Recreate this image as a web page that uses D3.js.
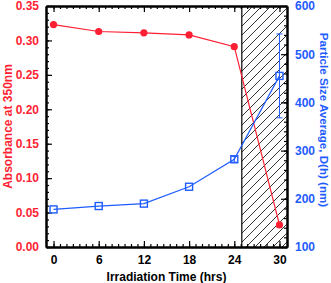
<!DOCTYPE html>
<html>
<head>
<meta charset="utf-8">
<script src="https://cdn.jsdelivr.net/npm/d3@7"></script>
<style>
  body { margin: 0; background: #fff; }
  text { font-family: "Liberation Sans", Arial, sans-serif; font-weight: bold; }
</style>
</head>
<body>
<svg width="331" height="283"></svg>
<script>
// data
var hours = [0, 6, 12, 18, 24, 30];
var absorbance = [0.323, 0.313, 0.311, 0.308, 0.291, 0.032];
var particleSize = [178, 185, 190, 225, 282, 455];
var sizeError = [0, 0, 0, 0, 6, 87];
var xTicks = [0, 6, 12, 18, 24, 30];
var hatchStart = 25;

var red = "#ff1f33", blue = "#1f5cff";

var svg = d3.select("svg"),
    width = +svg.attr("width"),
    height = +svg.attr("height"),
    marge = {top: 6, bottom: 36, left: 46, right: 44};
var w = width - marge.left - marge.right,
    h = height - marge.top - marge.bottom;

var g = svg.append("g")
    .attr("transform", "translate(" + marge.left + "," + marge.top + ")");

var x = d3.scaleLinear().domain([-1, 31]).range([0, w]);
var yL = d3.scaleLinear().domain([0, 0.35]).range([h, 0]);
var yR = d3.scaleLinear().domain([100, 600]).range([h, 0]);

// hatch pattern
var pat = svg.append("defs").append("pattern")
    .attr("id", "hatch")
    .attr("patternUnits", "userSpaceOnUse")
    .attr("width", 9).attr("height", 9);
pat.append("path")
    .attr("d", "M0,9 L9,0 M-2,2 L2,-2 M7,11 L11,7")
    .attr("stroke", "#000").attr("stroke-width", 0.8);

g.append("rect")
    .attr("x", x(hatchStart)).attr("y", 0)
    .attr("width", x(31) - x(hatchStart)).attr("height", h)
    .attr("fill", "url(#hatch)");
g.append("line")
    .attr("x1", x(hatchStart)).attr("x2", x(hatchStart))
    .attr("y1", 0).attr("y2", h)
    .attr("stroke", "#000").attr("stroke-width", 1.2);

// minor ticks on x: six between each major
var xMinor = [];
for (var i = 0; i <= 35; i++) { var v = i * 6 / 7; if (v < 31) xMinor.push(v); }

function styleAxis(sel) {
  sel.select(".domain").attr("stroke", "#000").attr("stroke-width", 2);
  sel.selectAll(".tick line").attr("stroke", "#000").attr("stroke-width", 1.2);
  sel.selectAll("text").attr("font-size", 12);
}

g.append("g").attr("transform", "translate(0," + h + ")")
  .call(d3.axisBottom(x).tickValues(xMinor).tickSize(-3).tickSizeOuter(0).tickFormat(""))
  .call(styleAxis);
g.append("g").attr("transform", "translate(0," + h + ")")
  .call(d3.axisBottom(x).tickValues(xTicks).tickSize(-6).tickSizeOuter(0).tickPadding(8).tickFormat(d3.format("d")))
  .call(styleAxis)
  .selectAll("text").attr("fill", "#000");

g.append("g")
  .call(d3.axisTop(x).tickValues(xMinor).tickSize(-3).tickSizeOuter(0).tickFormat(""))
  .call(styleAxis);
g.append("g")
  .call(d3.axisTop(x).tickValues(xTicks).tickSize(-6).tickSizeOuter(0).tickFormat(""))
  .call(styleAxis);

g.append("g")
  .call(d3.axisLeft(yL).tickValues(d3.range(0, 0.351, 0.01)).tickSize(-3).tickSizeOuter(0).tickFormat(""))
  .call(styleAxis);
g.append("g")
  .call(d3.axisLeft(yL).tickValues(d3.range(0, 0.351, 0.05)).tickSize(-6).tickSizeOuter(0).tickPadding(7).tickFormat(d3.format(".2f")))
  .call(styleAxis)
  .selectAll("text").attr("fill", red);

g.append("g").attr("transform", "translate(" + w + ",0)")
  .call(d3.axisRight(yR).tickValues(d3.range(100, 601, 20)).tickSize(-3).tickSizeOuter(0).tickFormat(""))
  .call(styleAxis);
g.append("g").attr("transform", "translate(" + w + ",0)")
  .call(d3.axisRight(yR).tickValues(d3.range(100, 601, 100)).tickSize(-6).tickSizeOuter(0).tickPadding(8).tickFormat(d3.format("d")))
  .call(styleAxis)
  .selectAll("text").attr("fill", blue);

// absorbance series
var absData = hours.map(function(d, i){ return {x: d, y: absorbance[i]}; });
g.append("path")
  .datum(absData)
  .attr("fill", "none").attr("stroke", red).attr("stroke-width", 1.2)
  .attr("d", d3.line().x(function(d){ return x(d.x); }).y(function(d){ return yL(d.y); }));
g.selectAll(".absPt").data(absData).enter().append("circle")
  .attr("cx", function(d){ return x(d.x); })
  .attr("cy", function(d){ return yL(d.y); })
  .attr("r", 3.6).attr("fill", red);

// particle size series
var sizeData = hours.map(function(d, i){ return {x: d, y: particleSize[i], e: sizeError[i]}; });
g.append("path")
  .datum(sizeData)
  .attr("fill", "none").attr("stroke", blue).attr("stroke-width", 1.2)
  .attr("d", d3.line().x(function(d){ return x(d.x); }).y(function(d){ return yR(d.y); }));
var eb = g.selectAll(".err").data(sizeData.filter(function(d){ return d.e > 0; })).enter().append("g");
eb.append("line")
  .attr("x1", function(d){ return x(d.x); }).attr("x2", function(d){ return x(d.x); })
  .attr("y1", function(d){ return yR(d.y - d.e); }).attr("y2", function(d){ return yR(d.y + d.e); })
  .attr("stroke", blue).attr("stroke-width", 1);
[-1, 1].forEach(function(s){
  eb.append("line")
    .attr("x1", function(d){ return x(d.x) - 3; }).attr("x2", function(d){ return x(d.x) + 3; })
    .attr("y1", function(d){ return yR(d.y + s * d.e); }).attr("y2", function(d){ return yR(d.y + s * d.e); })
    .attr("stroke", blue).attr("stroke-width", 1);
});
g.selectAll(".sizePt").data(sizeData).enter().append("rect")
  .attr("x", function(d){ return x(d.x) - 3.5; })
  .attr("y", function(d){ return yR(d.y) - 3.5; })
  .attr("width", 7).attr("height", 7)
  .attr("fill", "none").attr("stroke", blue).attr("stroke-width", 1.4);

// titles
svg.append("text")
  .attr("x", marge.left + w / 2).attr("y", 281)
  .attr("text-anchor", "middle").attr("font-size", 12).attr("fill", "#000")
  .text("Irradiation Time (hrs)");
svg.append("text")
  .attr("transform", "translate(11.5," + (marge.top + h / 2) + ") rotate(-90)")
  .attr("text-anchor", "middle").attr("font-size", 12).attr("fill", red)
  .text("Absorbance at 350nm");
svg.append("text")
  .attr("transform", "translate(320,120) rotate(90)")
  .attr("text-anchor", "middle").attr("font-size", 11.6).attr("fill", blue)
  .text("Particle Size Average, D(h) (nm)");
</script>
</body>
</html>
